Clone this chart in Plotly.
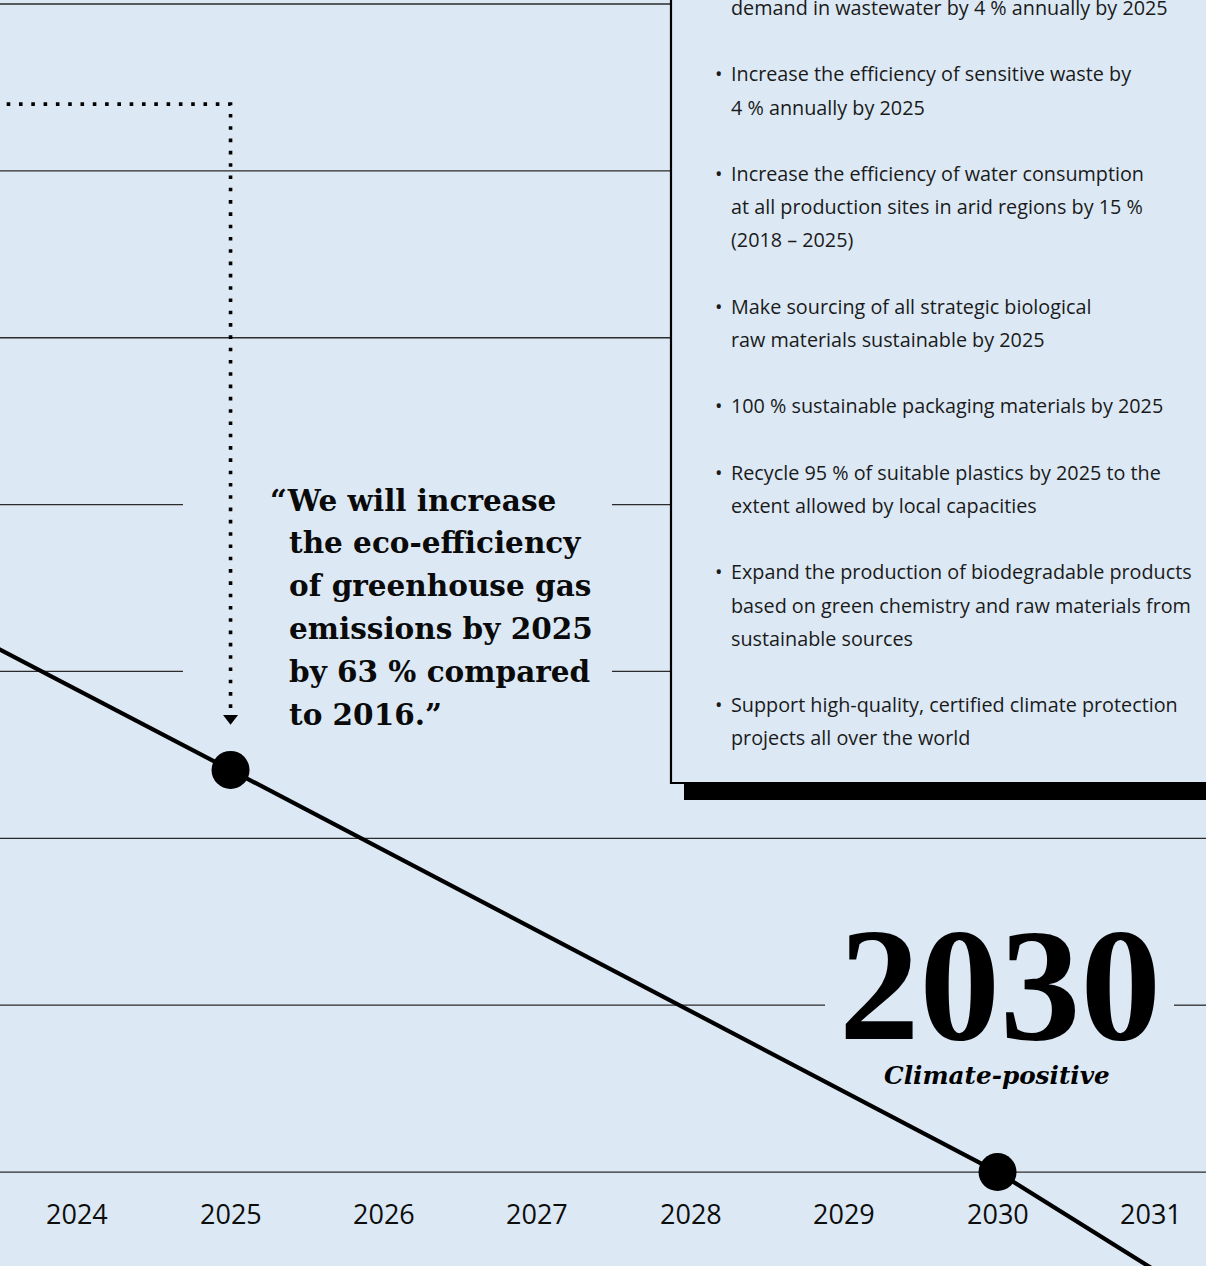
import plotly.graph_objects as go

# ---------------- data ----------------
tick_years = [2024, 2025, 2026, 2027, 2028, 2029, 2030, 2031]
tick_labels = ["2024", "2025", "2026", "2027", "2028", "2029", "2030", "2031"]

# emission-efficiency path (grid units, 0 = climate-positive line)
line_years = [2023.0, 2025.0, 2030.0, 2031.5]
line_values = [3.37, 2.41, 0.0, -0.86]

milestone_years = [2025, 2030]
milestone_values = [2.41, 0.0]

grid_levels = [0, 1, 2, 3, 4, 5, 6, 7]

# dotted pointer from the quote to the 2025 milestone
pointer_years = [2023.3, 2025.0, 2025.0]
pointer_values = [6.40, 6.40, 2.78]
arrow_year = [2025.0]
arrow_value = [2.72]

targets = [
    ("", "demand in wastewater by 4 % annually by 2025"),
    ("•", "Increase the efficiency of sensitive waste by"),
    ("", "4 % annually by 2025"),
    ("•", "Increase the efficiency of water consumption"),
    ("", "at all production sites in arid regions by 15 %"),
    ("", "(2018 – 2025)"),
    ("•", "Make sourcing of all strategic biological"),
    ("", "raw materials sustainable by 2025"),
    ("•", "100 % sustainable packaging materials by 2025"),
    ("•", "Recycle 95 % of suitable plastics by 2025 to the"),
    ("", "extent allowed by local capacities"),
    ("•", "Expand the production of biodegradable products"),
    ("", "based on green chemistry and raw materials from"),
    ("", "sustainable sources"),
    ("•", "Support high-quality, certified climate protection"),
    ("", "projects all over the world"),
]
target_rows = [0, 2, 3, 5, 6, 7, 9, 10, 12, 14, 15, 17, 18, 19, 21, 22]

quote_lines = [
    "“We will increase",
    "the eco-efficiency",
    "of greenhouse gas",
    "emissions by 2025",
    "by 63 % compared",
    "to 2016.”",
]

# ---------------- layout helpers ----------------
W, H = 1206, 1266
BG = "#dce9f5"
X_RANGE = [2023.497, 2031.359]
Y_RANGE = [-0.563, 7.024]


def fx(p):
    return p / W


def fy(p):
    return 1 - p / H


fig = go.Figure()

# gridlines (segments in pixel x)
segments = {
    7: [(0, 671)],
    6: [(0, 671)],
    5: [(0, 671)],
    4: [(0, 183), (612, 671)],
    3: [(0, 183), (612, 671)],
    2: [(0, 1206)],
    1: [(0, 825), (1174, 1206)],
    0: [(0, 1206)],
}
shapes = []
for lv in grid_levels:
    for a, b in segments[lv]:
        shapes.append(dict(type="line", xref="paper", yref="y",
                           x0=fx(a), x1=fx(b), y0=lv, y1=lv,
                           line=dict(color="#2b2b2b", width=1.3), layer="below"))

# box with shadow
shapes.append(dict(type="rect", xref="paper", yref="paper",
                   x0=fx(684), x1=1.05, y0=fy(800), y1=fy(782),
                   fillcolor="#000000", line=dict(width=0), layer="below"))
shapes.append(dict(type="rect", xref="paper", yref="paper",
                   x0=fx(671), x1=1.05, y0=fy(783), y1=1.05,
                   fillcolor=BG, line=dict(color="#000000", width=2.2), layer="below"))

# traces
fig.add_trace(go.Scatter(x=pointer_years, y=pointer_values, mode="lines",
                         line=dict(color="#000000", width=3.6, dash="3.6px,8.7px"),
                         hoverinfo="skip"))
fig.add_trace(go.Scatter(x=arrow_year, y=arrow_value, mode="markers",
                         marker=dict(symbol="triangle-down", size=13, color="#000000"),
                         hoverinfo="skip"))
fig.add_trace(go.Scatter(x=line_years, y=line_values, mode="lines",
                         line=dict(color="#000000", width=4.2), hoverinfo="skip"))
fig.add_trace(go.Scatter(x=milestone_years, y=milestone_values, mode="markers",
                         marker=dict(size=38, color="#000000"), hoverinfo="skip"))

annotations = []
# year labels
for yr, lab in zip(tick_years, tick_labels):
    annotations.append(dict(x=yr, xref="x", y=fy(1213), yref="paper", text=lab,
                            showarrow=False, xanchor="center", yanchor="middle",
                            font=dict(family="Open Sans", size=27, color="#0d0d0d",
                                      weight=500)))

# target list
SANS = "Open Sans"
for (bul, txt), r in zip(targets, target_rows):
    yc = 7.5 + 33.2 * r
    if bul:
        annotations.append(dict(x=fx(718), y=fy(yc), xref="paper", yref="paper",
                                text=bul, showarrow=False, xanchor="center",
                                yanchor="middle",
                                font=dict(family=SANS, size=19.8, color="#1a1a1a")))
    annotations.append(dict(x=fx(729), y=fy(yc), xref="paper", yref="paper",
                            text=txt, showarrow=False, xanchor="left", yanchor="middle",
                            font=dict(family=SANS, size=19.8, color="#1a1a1a")))

# quote
for i, q in enumerate(quote_lines):
    yc = 500 + 42.8 * i
    xl = 268 if i == 0 else 287
    annotations.append(dict(x=fx(xl), y=fy(yc), xref="paper", yref="paper",
                            text="<b>" + q + "</b>", showarrow=False,
                            xanchor="left", yanchor="middle",
                            font=dict(family="DejaVu Serif", size=29.5, color="#0a0a0a")))

# 2030 headline
annotations.append(dict(x=fx(1000), y=fy(985), xref="paper", yref="paper",
                        text="<b>2030</b>", showarrow=False, xanchor="center",
                        yanchor="middle", height=126, valign="middle",
                        font=dict(family="Liberation Serif", size=161, color="#000000")))
annotations.append(dict(x=fx(997), y=fy(1075), xref="paper", yref="paper",
                        text="<b><i>Climate-positive</i></b>", showarrow=False,
                        xanchor="center", yanchor="middle",
                        font=dict(family="DejaVu Serif", size=24.7, color="#000000")))

fig.update_layout(
    width=W, height=H,
    margin=dict(l=0, r=0, t=0, b=0),
    paper_bgcolor=BG, plot_bgcolor=BG,
    showlegend=False,
    xaxis=dict(range=X_RANGE, visible=False, fixedrange=True),
    yaxis=dict(range=Y_RANGE, visible=False, fixedrange=True),
    shapes=shapes,
    annotations=annotations,
)

fig.write_html(
    "out.html",
    config={"displayModeBar": False},
    post_script="document.body.style.margin='0';document.body.style.padding='0';"
                "document.body.style.overflow='hidden';"
                "document.body.style.background='" + BG + "';",
)
